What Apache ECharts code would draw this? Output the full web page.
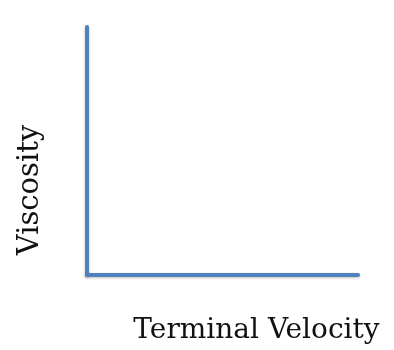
<!DOCTYPE html>
<html>
<head>
<meta charset="utf-8">
<script src="https://cdn.jsdelivr.net/npm/echarts@6/dist/echarts.min.js"></script>
<style>html,body{margin:0;padding:0;background:#fff}#c{width:394px;height:350px}</style>
</head>
<body>
<div id="c"></div>
<script>
var xAxisName = 'Terminal Velocity';
var yAxisName = 'Viscosity';
var xData = [];
var yData = [];

var chart = echarts.init(document.getElementById('c'), null, {renderer: 'canvas'});
var axisLineStyle = {color: '#4f81bd', width: 4, shadowColor: 'rgba(0,0,0,0.25)', shadowBlur: 3, shadowOffsetY: 1};
chart.setOption({
  animation: false,
  backgroundColor: '#fff',
  grid: {left: 87, top: 27, right: 36, bottom: 75},
  xAxis: {
    type: 'value', min: 0, max: 1,
    name: xAxisName, nameLocation: 'middle', nameGap: 42,
    nameTextStyle: {fontFamily: 'DejaVu Serif', fontSize: 28, color: '#111', padding: [0, 0, 0, 68]},
    axisLine: {show: true, onZero: false, lineStyle: axisLineStyle},
    axisTick: {show: false}, axisLabel: {show: false}, splitLine: {show: false}
  },
  yAxis: {
    type: 'value', min: 0, max: 1,
    name: yAxisName, nameLocation: 'middle', nameGap: 42,
    nameTextStyle: {fontFamily: 'DejaVu Serif', fontSize: 29, color: '#111', padding: [0, 78, 0, 0]},
    axisLine: {show: true, onZero: false, lineStyle: axisLineStyle},
    axisTick: {show: false}, axisLabel: {show: false}, splitLine: {show: false}
  },
  series: [{type: 'line', data: xData.map(function (x, i) { return [x, yData[i]]; })}]
});
</script>
</body>
</html>
